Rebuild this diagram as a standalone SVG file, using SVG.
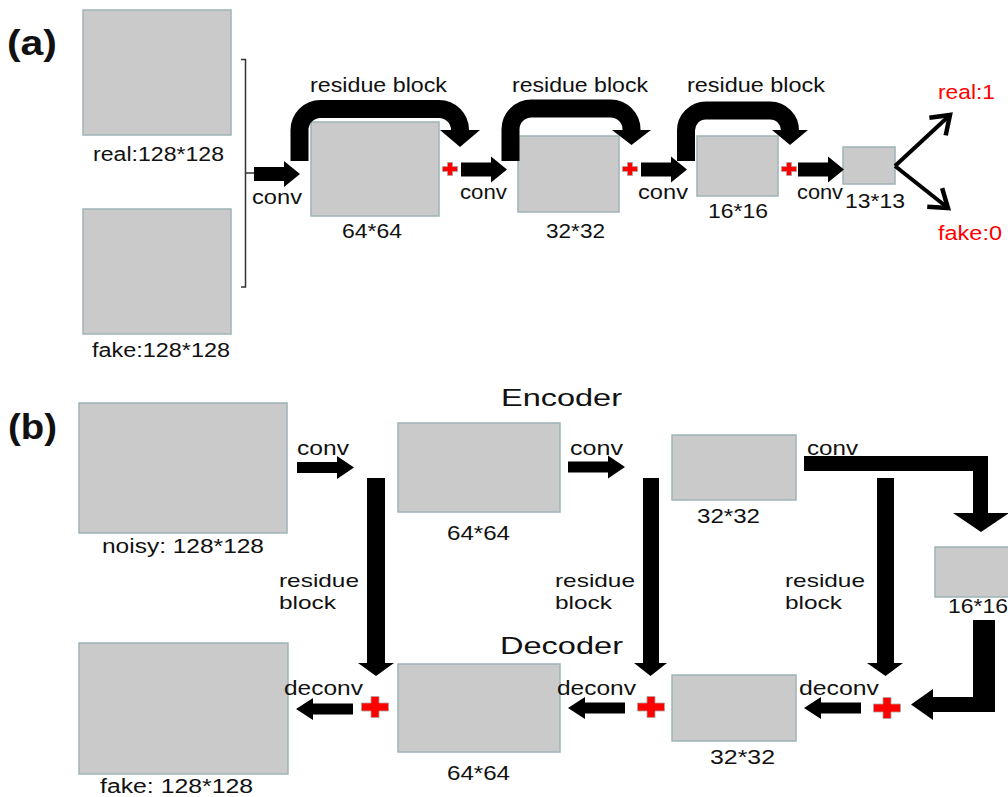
<svg xmlns="http://www.w3.org/2000/svg" xmlns:xlink="http://www.w3.org/1999/xlink" width="1008" height="797" viewBox="0 0 1008 797">
<style>
.box{fill:#cacaca;stroke:#9fb4b6;stroke-width:1.5}
.t{font-family:"Liberation Sans",Arial,sans-serif;font-size:20.5px;fill:#111}
.s{font-size:19.5px}
.rb{font-size:19px}
.hd{font-family:"Liberation Sans",Arial,sans-serif;font-size:35px;font-weight:bold;fill:#111}
.big{font-size:23.5px}
.red{fill:#ff0000}
.arc{fill:none;stroke:#000;stroke-width:18}
.blk{fill:#000}
.thin{fill:none;stroke:#000;stroke-width:4}
.brk{fill:none;stroke:#333;stroke-width:1.5}
.plus{fill:#ff0000;stroke:#b0a0a0;stroke-width:0.8}
</style>
<defs>
<path id="arrA" d="M-46,-7 H-16 V-13 L0,0 L-16,13 V7 H-46 Z"/>
<path id="arrB" d="M-57,-5.5 H-17 V-11.5 L0,0 L-17,11.5 V5.5 H-57 Z"/>
<path id="arrBL" d="M57,-5.5 H17 V-11 L0,0 L17,11 V5.5 H57 Z"/>
<path id="plusS" d="M-2.5,-6.5 H2.5 V-2.5 H7.5 V2.5 H2.5 V6.5 H-2.5 V2.5 H-7.5 V-2.5 H-2.5 Z"/>
<path id="plusL" d="M-4,-10.5 H4 V-4 H13.5 V4 H4 V10.5 H-4 V4 H-13.5 V-4 H-4 Z"/>
<marker id="vhead" markerUnits="userSpaceOnUse" markerWidth="30" markerHeight="30" refX="0" refY="0" viewBox="-20 -15 24 30" orient="auto" overflow="visible">
<path d="M-17,-12 L0,0 L-17,12" fill="none" stroke="#000" stroke-width="4.5"/>
</marker>
</defs>

<text class="hd" x="7" y="55" textLength="50" lengthAdjust="spacingAndGlyphs">(a)</text>
<text class="hd" x="8" y="439" textLength="49" lengthAdjust="spacingAndGlyphs">(b)</text>

<!-- Part (a) nodes -->
<g id="a-real">
<rect class="box" x="83" y="10" width="148" height="125"/>
<text class="t s" x="93" y="161" textLength="131" lengthAdjust="spacingAndGlyphs">real:128*128</text>
</g>
<g id="a-fake">
<rect class="box" x="83" y="209" width="148" height="125"/>
<text class="t s" x="92" y="357" textLength="138" lengthAdjust="spacingAndGlyphs">fake:128*128</text>
</g>
<g id="a-64">
<rect class="box" x="311" y="122" width="128" height="94"/>
<text class="t s" x="342" y="238" textLength="60" lengthAdjust="spacingAndGlyphs">64*64</text>
</g>
<g id="a-32">
<rect class="box" x="518" y="136" width="101" height="76"/>
<text class="t s" x="546" y="238" textLength="59" lengthAdjust="spacingAndGlyphs">32*32</text>
</g>
<g id="a-16">
<rect class="box" x="697" y="136" width="81" height="60"/>
<text class="t s" x="708" y="218" textLength="60" lengthAdjust="spacingAndGlyphs">16*16</text>
</g>
<g id="a-13">
<rect class="box" x="843" y="147" width="52" height="37"/>
<text class="t s" x="845" y="208" textLength="60" lengthAdjust="spacingAndGlyphs">13*13</text>
</g>
<g id="a-out">
<text class="t red" x="938" y="99" textLength="57" lengthAdjust="spacingAndGlyphs">real:1</text>
<text class="t red" x="938" y="240" textLength="64" lengthAdjust="spacingAndGlyphs">fake:0</text>
</g>

<!-- Part (b) nodes -->
<g id="b-noisy">
<rect class="box" x="79" y="403" width="208" height="130"/>
<text class="t s" x="102" y="553" textLength="162" lengthAdjust="spacingAndGlyphs">noisy: 128*128</text>
</g>
<g id="b-enc64">
<rect class="box" x="398" y="423" width="162" height="89"/>
<text class="t s" x="447" y="540" textLength="63" lengthAdjust="spacingAndGlyphs">64*64</text>
</g>
<g id="b-enc32">
<rect class="box" x="672" y="435" width="124" height="65"/>
<text class="t s" x="697" y="523" textLength="63" lengthAdjust="spacingAndGlyphs">32*32</text>
</g>
<g id="b-16">
<rect class="box" x="935" y="547" width="80" height="50"/>
<text class="t s" x="948" y="613" textLength="60" lengthAdjust="spacingAndGlyphs">16*16</text>
</g>
<g id="b-fake">
<rect class="box" x="79" y="643" width="209" height="131"/>
<text class="t s" x="100" y="793" textLength="153" lengthAdjust="spacingAndGlyphs">fake: 128*128</text>
</g>
<g id="b-dec64">
<rect class="box" x="398" y="664" width="162" height="88"/>
<text class="t s" x="447" y="780" textLength="63" lengthAdjust="spacingAndGlyphs">64*64</text>
</g>
<g id="b-dec32">
<rect class="box" x="672" y="675" width="124" height="66"/>
<text class="t s" x="710" y="764" textLength="65" lengthAdjust="spacingAndGlyphs">32*32</text>
</g>
<g id="b-titles">
<text class="t big" x="501" y="406" textLength="121" lengthAdjust="spacingAndGlyphs">Encoder</text>
<text class="t big" x="500" y="654" textLength="123" lengthAdjust="spacingAndGlyphs">Decoder</text>
</g>

<!-- Connectors -->
<g id="connectors">
<path class="brk" d="M241,59.5 H245.5 V287 H241 M245.5,173 H255"/>
<use xlink:href="#arrA" href="#arrA" x="300" y="174"/>
<use xlink:href="#arrA" href="#arrA" x="507" y="169.5"/>
<use xlink:href="#arrA" href="#arrA" x="687" y="169.5"/>
<use xlink:href="#arrA" href="#arrA" x="844" y="169.5"/>
<text class="t" x="252" y="204" textLength="50" lengthAdjust="spacingAndGlyphs">conv</text>
<text class="t" x="460" y="199" textLength="47" lengthAdjust="spacingAndGlyphs">conv</text>
<text class="t" x="638" y="199" textLength="50" lengthAdjust="spacingAndGlyphs">conv</text>
<text class="t" x="797" y="199" textLength="46" lengthAdjust="spacingAndGlyphs">conv</text>
<path class="arc" d="M299.5,161 V130 A21,21 0 0 1 320.5,109 H439 A21,21 0 0 1 460,130 V132"/>
<polygon class="blk" points="440,130 480,130 460,147"/>
<path class="arc" d="M510.5,161 V130 A21,21 0 0 1 531.5,108.5 H610.5 A21,21 0 0 1 631.5,130 V132"/>
<polygon class="blk" points="612,130 651,130 631.5,145"/>
<path class="arc" d="M686,161 V131 A20,20 0 0 1 706,110.5 H770 A20,20 0 0 1 790,131 V132"/>
<polygon class="blk" points="772,130 808,130 790,145"/>
<text class="t" x="310" y="92" textLength="137" lengthAdjust="spacingAndGlyphs">residue block</text>
<text class="t" x="512" y="92" textLength="136" lengthAdjust="spacingAndGlyphs">residue block</text>
<text class="t" x="687" y="92" textLength="138" lengthAdjust="spacingAndGlyphs">residue block</text>
<use xlink:href="#plusS" href="#plusS" class="plus" x="450" y="169"/>
<use xlink:href="#plusS" href="#plusS" class="plus" x="630" y="169"/>
<use xlink:href="#plusS" href="#plusS" class="plus" x="789" y="169"/>
<line class="thin" x1="895" y1="166" x2="950" y2="115" marker-end="url(#vhead)"/>
<line class="thin" x1="895" y1="166" x2="948" y2="208" marker-end="url(#vhead)"/>

<use xlink:href="#arrB" href="#arrB" x="354" y="467.5"/>
<use xlink:href="#arrB" href="#arrB" x="625" y="467"/>
<text class="t" x="297" y="455" textLength="52" lengthAdjust="spacingAndGlyphs">conv</text>
<text class="t" x="570" y="455" textLength="53" lengthAdjust="spacingAndGlyphs">conv</text>
<text class="t" x="807" y="455" textLength="51" lengthAdjust="spacingAndGlyphs">conv</text>
<polygon class="blk" points="804,456 988,456 988,513 1009,513 981,532 953,513 973,513 973,471 804,471"/>
<polygon class="blk" points="367,478 385,478 385,663 394,663 376,676 358,663 367,663"/>
<polygon class="blk" points="643,478 659,478 659,663 667,663 650.5,676 634,663 643,663"/>
<polygon class="blk" points="877,478 894,478 894,663 903,663 885.5,676 867,663 877,663"/>
<text class="t rb" x="279" y="587" textLength="80" lengthAdjust="spacingAndGlyphs">residue</text>
<text class="t rb" x="279" y="609" textLength="57" lengthAdjust="spacingAndGlyphs">block</text>
<text class="t rb" x="555" y="587" textLength="80" lengthAdjust="spacingAndGlyphs">residue</text>
<text class="t rb" x="555" y="609" textLength="57" lengthAdjust="spacingAndGlyphs">block</text>
<text class="t rb" x="785" y="587" textLength="80" lengthAdjust="spacingAndGlyphs">residue</text>
<text class="t rb" x="785" y="609" textLength="57" lengthAdjust="spacingAndGlyphs">block</text>
<polygon class="blk" points="973,620 995,620 995,712 933,712 933,720 911,704.5 933,689 933,697 973,697"/>
<use xlink:href="#plusL" href="#plusL" class="plus" x="375" y="707"/>
<use xlink:href="#plusL" href="#plusL" class="plus" x="651" y="707"/>
<use xlink:href="#plusL" href="#plusL" class="plus" x="887" y="708"/>
<use xlink:href="#arrBL" href="#arrBL" x="296" y="709"/>
<use xlink:href="#arrBL" href="#arrBL" x="568" y="708"/>
<use xlink:href="#arrBL" href="#arrBL" x="804" y="708"/>
<text class="t" x="284" y="695" textLength="79" lengthAdjust="spacingAndGlyphs">deconv</text>
<text class="t" x="557" y="695" textLength="79" lengthAdjust="spacingAndGlyphs">deconv</text>
<text class="t" x="799" y="695" textLength="80" lengthAdjust="spacingAndGlyphs">deconv</text>
</g>
</svg>
